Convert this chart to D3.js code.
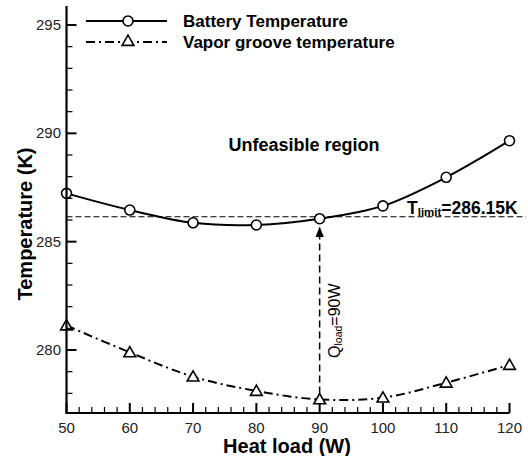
<!DOCTYPE html>
<html>
<head>
<meta charset="utf-8">
<script src="https://cdn.jsdelivr.net/npm/d3@7"></script>
<style>
  html, body { margin: 0; padding: 0; background: #fff; }
  svg { display: block; font-family: "Liberation Sans", Arial, sans-serif; }
</style>
</head>
<body>
<div id="chart"></div>
<script>
// Heat load (W)
const heatLoad = [50, 60, 70, 80, 90, 100, 110, 120];
// Battery temperature (K)
const batteryTemp = [287.23, 286.46, 285.87, 285.77, 286.06, 286.65, 287.97, 289.66];
// Vapor groove temperature (K)
const vaporTemp = [281.13, 279.89, 278.77, 278.11, 277.72, 277.8, 278.49, 279.31];
const T_LIMIT = 286.15;
const Q_LOAD = 90;
const xTicks = [50, 60, 70, 80, 90, 100, 110, 120];
const yTicks = [280, 285, 290, 295];

const W = 528, H = 456;
const svg = d3.select('#chart').append('svg').attr('width', W).attr('height', H);

// plot box: left axis at 66.5, bottom axis at 413
const x = d3.scaleLinear().domain([50, 120]).range([66.5, 509.5]);
const y = d3.scaleLinear().domain([280, 295]).range([350, 25]);
const yTop = 295.88;

// threshold line
svg.append('line')
  .attr('x1', x(50)).attr('x2', 526)
  .attr('y1', y(T_LIMIT)).attr('y2', y(T_LIMIT))
  .attr('stroke', '#000').attr('stroke-width', 1.2)
  .attr('stroke-dasharray', '6,3');

// vertical Qload arrow
const qi = heatLoad.indexOf(Q_LOAD);
const defs = svg.append('defs');
defs.append('marker').attr('id', 'arr')
  .attr('viewBox', '0 0 10 10').attr('refX', 9).attr('refY', 5)
  .attr('markerWidth', 7).attr('markerHeight', 7).attr('orient', 'auto')
  .append('path').attr('d', 'M0,1 L10,5 L0,9 Z').attr('fill', '#000');
svg.append('line')
  .attr('x1', x(Q_LOAD)).attr('x2', x(Q_LOAD))
  .attr('y1', y(vaporTemp[qi]) - 6).attr('y2', y(batteryTemp[qi]) + 9)
  .attr('stroke', '#000').attr('stroke-width', 1.5)
  .attr('stroke-dasharray', '7,4')
  .attr('marker-end', 'url(#arr)');

// curves
const line = d3.line().curve(d3.curveCatmullRom.alpha(0.5));
svg.append('path')
  .attr('d', line(heatLoad.map((h, i) => [x(h), y(batteryTemp[i])])))
  .attr('fill', 'none').attr('stroke', '#000').attr('stroke-width', 2);
svg.append('path')
  .attr('d', line(heatLoad.map((h, i) => [x(h), y(vaporTemp[i])])))
  .attr('fill', 'none').attr('stroke', '#000').attr('stroke-width', 2)
  .attr('stroke-dasharray', '9,4,2,4');

// markers
const triPath = d3.symbol().type(d3.symbolTriangle).size(60);
svg.selectAll('.bat').data(heatLoad).enter().append('circle')
  .attr('cx', d => x(d)).attr('cy', (d, i) => y(batteryTemp[i])).attr('r', 5)
  .attr('fill', '#fff').attr('stroke', '#000').attr('stroke-width', 1.6);
svg.selectAll('.vap').data(heatLoad).enter().append('path')
  .attr('d', triPath)
  .attr('transform', (d, i) => `translate(${x(d)},${y(vaporTemp[i]) + 1})`)
  .attr('fill', '#fff').attr('stroke', '#000').attr('stroke-width', 1.6);

// axes
const ax = svg.append('g');
ax.append('line').attr('x1', x(50)).attr('x2', x(120)).attr('y1', 413).attr('y2', 413)
  .attr('stroke', '#000').attr('stroke-width', 2.2);
ax.append('line').attr('x1', x(50)).attr('x2', x(50)).attr('y1', y(yTop)).attr('y2', 414)
  .attr('stroke', '#000').attr('stroke-width', 2.2);

d3.range(50, 121, 2).forEach(v => {
  const major = xTicks.includes(v);
  ax.append('line').attr('x1', x(v)).attr('x2', x(v))
    .attr('y1', 413).attr('y2', 413 - (major ? 10 : 6))
    .attr('stroke', '#000').attr('stroke-width', major ? 2 : 1.2);
});
d3.range(278, 296, 1).forEach(v => {
  const major = yTicks.includes(v);
  ax.append('line').attr('x1', x(50)).attr('x2', x(50) + (major ? 10 : 6))
    .attr('y1', y(v)).attr('y2', y(v))
    .attr('stroke', '#000').attr('stroke-width', major ? 2 : 1.2);
});

xTicks.forEach(v => {
  ax.append('text').attr('x', x(v)).attr('y', 433)
    .attr('text-anchor', 'middle').attr('font-size', 15).attr('fill', '#222')
    .text(v);
});
yTicks.forEach(v => {
  ax.append('text').attr('x', 61).attr('y', y(v) + 5)
    .attr('text-anchor', 'end').attr('font-size', 15).attr('fill', '#222')
    .text(v);
});

svg.append('text').attr('x', 287).attr('y', 453)
  .attr('text-anchor', 'middle').attr('font-size', 20).attr('font-weight', 'bold')
  .text('Heat load (W)');
svg.append('text')
  .attr('transform', `translate(32,224) rotate(-90)`)
  .attr('text-anchor', 'middle').attr('font-size', 20).attr('font-weight', 'bold')
  .text('Temperature (K)');

// annotations
svg.append('text').attr('x', 304).attr('y', 151)
  .attr('text-anchor', 'middle').attr('font-size', 18).attr('font-weight', 'bold')
  .text('Unfeasible region');

const tl = svg.append('text').attr('x', 407).attr('y', y(T_LIMIT) - 3)
  .attr('font-size', 17.5).attr('font-weight', 'bold');
tl.append('tspan').text('T');
tl.append('tspan').attr('font-size', 11.5).attr('dy', 2).text('limit');
tl.append('tspan').attr('dy', -2).text(`=${T_LIMIT}K`);

const ql = svg.append('text')
  .attr('transform', `translate(${x(Q_LOAD) + 20},358) rotate(-90)`)
  .attr('font-size', 16);
ql.append('tspan').text('Q');
ql.append('tspan').attr('font-size', 10.5).attr('dy', 2).text('load');
ql.append('tspan').attr('dy', -2).text(`=${Q_LOAD}W`);

// legend
const leg = svg.append('g');
const legRows = [
  { label: 'Battery Temperature', dash: null, sym: 'circle', yy: 21 },
  { label: 'Vapor groove temperature', dash: '9,4,2,4', sym: 'tri', yy: 42 },
];
legRows.forEach(r => {
  leg.append('line').attr('x1', 86).attr('x2', 167).attr('y1', r.yy).attr('y2', r.yy)
    .attr('stroke', '#000').attr('stroke-width', 2)
    .attr('stroke-dasharray', r.dash);
  if (r.sym === 'circle') {
    leg.append('circle').attr('cx', 128).attr('cy', r.yy).attr('r', 5)
      .attr('fill', '#fff').attr('stroke', '#000').attr('stroke-width', 1.6);
  } else {
    leg.append('path').attr('d', triPath).attr('transform', `translate(128,${r.yy})`)
      .attr('fill', '#fff').attr('stroke', '#000').attr('stroke-width', 1.6);
  }
  leg.append('text').attr('x', 183).attr('y', r.yy + 6)
    .attr('font-size', 17).attr('font-weight', 'bold').text(r.label);
});
</script>
</body>
</html>
